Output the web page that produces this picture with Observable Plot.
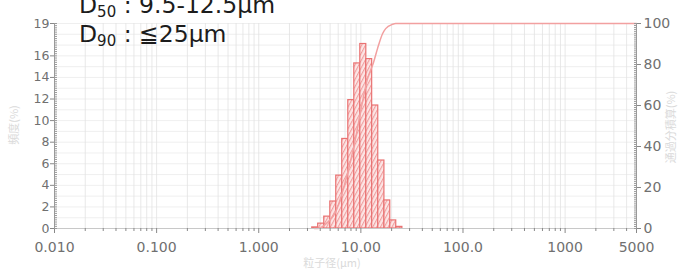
<!DOCTYPE html>
<html><head><meta charset="utf-8">
<script src="https://cdn.jsdelivr.net/npm/d3@7"></script>
<script src="https://cdn.jsdelivr.net/npm/@observablehq/plot@0.6"></script>
<style>body{margin:0;background:#fff} #chart{width:683px;height:271px}</style>
</head><body><div id="chart"></div>
<script>
// Histogram bins (µm) and frequency (%)
const binLower = [3.34, 3.82, 4.38, 5.02, 5.74, 6.57, 7.53, 8.62, 9.87, 11.3, 12.9, 14.8, 17.0, 19.4, 22.2];
const binUpper = [3.82, 4.38, 5.02, 5.74, 6.57, 7.53, 8.62, 9.87, 11.3, 12.9, 14.8, 17.0, 19.4, 22.2, 25.5];
const freq     = [0.1, 0.45, 1.1, 2.5, 4.9, 8.3, 11.9, 15.3, 17.1, 15.7, 11.4, 6.3, 2.6, 0.75, 0.15];
// Cumulative curve (µm, %)
const cumSize = [3.5, 3.77, 4.72, 5.65, 6.62, 7.58, 8.87, 9.93, 11.6, 13.3, 14.6, 16.3, 17.5, 20.4, 21.9, 5000];
const cumPct  = [0, 0, 3, 8, 18, 29, 44, 57, 73, 81, 88, 95, 97.5, 99.6, 100, 100];
// Axes
const xTicks = [0.01, 0.1, 1, 10, 100, 1000, 5000];
const xTickLabels = ["0.010", "0.100", "1.000", "10.00", "100.0", "1000", "5000"];
const yTicks = [0, 2, 4, 6, 8, 10, 12, 14, 16, 19];
const y2Ticks = [0, 20, 40, 60, 80, 100];
const yMax = 19;
const xMin = 0.01, xMax = 5000;
const titleLines = [["D", "50", " : 9.5-12.5μm"], ["D", "90", " : ≦25μm"]];
const yLabel = "頻度(%)";
const y2Label = "通過分積算(%)";
const xLabel = "粒子径(μm)";

const bars = freq.map((f, i) => ({lo: binLower[i], hi: binUpper[i], f}));
const cum = cumSize.map((d, i) => ({d, p: cumPct[i]}));
const toY = p => p * yMax / 100;
const xLabelData = xTicks.map((x, i) => ({x, label: xTickLabels[i]}));

const logTicks = d3.scaleLog().domain([xMin, xMax]).ticks();
const xMinor = logTicks.filter(t => !xTicks.includes(t));
const yGrid = d3.range(0, yMax + 0.001, 1);
const yMinor = d3.range(0, yMax + 0.001, 0.2);
const y2Minor = d3.range(0, 100.001, 1).map(toY);

const plot = Plot.plot({
  width: 683, height: 271,
  marginLeft: 54, marginRight: 47, marginTop: 23, marginBottom: 43,
  style: {fontFamily: "'DejaVu Sans', Verdana, sans-serif", fontSize: "13px", color: "#707070", background: "#fff"},
  x: {type: "log", domain: [xMin, xMax]},
  y: {domain: [0, yMax]},
  marks: [
    Plot.ruleY(yGrid, {stroke: "#ebebeb", strokeWidth: 0.8}),
    Plot.ruleX(logTicks, {stroke: "#e2e2e2", strokeWidth: 0.8}),
    Plot.rectY(bars, {x1: "lo", x2: "hi", y: "f", fill: "url(#hatch)", stroke: "#e97272", strokeWidth: 1.2}),
    Plot.line(cum, {x: "d", y: d => toY(d.p), stroke: "#f2a0a0", strokeWidth: 1.5, curve: "monotone-x"}),
    Plot.ruleX([xMin], {stroke: "#9a9a9a"}),
    Plot.ruleX([xMax], {stroke: "#9a9a9a"}),
    Plot.ruleY([0], {stroke: "#c8c8c8"}),
    Plot.axisX(xTicks, {anchor: "bottom", label: null, tickSize: 5, stroke: "#888", tickFormat: () => ""}),
    Plot.text(xLabelData, {x: "x", y: 0, text: "label", dy: 19, fontSize: 14, fill: "#707070", textAnchor: "middle"}),
    Plot.axisX(xMinor, {anchor: "bottom", label: null, tickSize: 3, stroke: "#888", tickFormat: () => ""}),
    Plot.axisY(yTicks, {anchor: "left", label: null, tickSize: 4, tickPadding: 1, fontSize: 12.5, stroke: "#888"}),
    Plot.axisY(yMinor, {anchor: "left", label: null, tickSize: 3, dx: 3, stroke: "#999", tickFormat: () => ""}),
    Plot.axisY(y2Ticks.map(toY), {anchor: "right", label: null, tickSize: 4, tickPadding: 3, fontSize: 14, stroke: "#888",
      tickFormat: d => String(Math.round(d * 100 / yMax))}),
    Plot.axisY(y2Minor, {anchor: "right", label: null, tickSize: 3, dx: -3, stroke: "#999", tickFormat: () => ""})
  ]
});

const svg = d3.select(plot);
const defs = svg.insert("defs", ":first-child");
const pat = defs.append("pattern").attr("id", "hatch").attr("patternUnits", "userSpaceOnUse")
  .attr("width", 3.4).attr("height", 10).attr("patternTransform", "rotate(28)");
pat.append("rect").attr("width", 3.4).attr("height", 10).attr("fill", "#fce6e6");
pat.append("line").attr("x1", 0.6).attr("x2", 0.6).attr("y1", 0).attr("y2", 10)
  .attr("stroke", "#ee8f8f").attr("stroke-width", 0.9);

// Annotation text
const ann = svg.append("g").attr("font-family", "'DejaVu Sans', Verdana, sans-serif")
  .attr("fill", "#1c1c1c").attr("text-anchor", "start");
titleLines.forEach((parts, i) => {
  const t = ann.append("text").attr("x", 79).attr("y", 13 + i * 29).attr("font-size", 23.5);
  t.append("tspan").text(parts[0]);
  t.append("tspan").attr("font-size", 15).attr("dy", 4).text(parts[1]);
  t.append("tspan").attr("dy", -4).text(parts[2]);
});
const faint = svg.append("g").attr("font-family", "'Noto Sans CJK JP', sans-serif").attr("fill", "#dadada").attr("font-size", 11);
faint.append("text").attr("transform", "translate(18,125) rotate(-90)").attr("text-anchor", "middle").text(yLabel);
faint.append("text").attr("transform", "translate(675,127) rotate(-90)").attr("text-anchor", "middle").text(y2Label);
faint.append("text").attr("x", 332).attr("y", 267).attr("text-anchor", "middle").text(xLabel);

document.getElementById("chart").appendChild(plot);
</script>
</body></html>
